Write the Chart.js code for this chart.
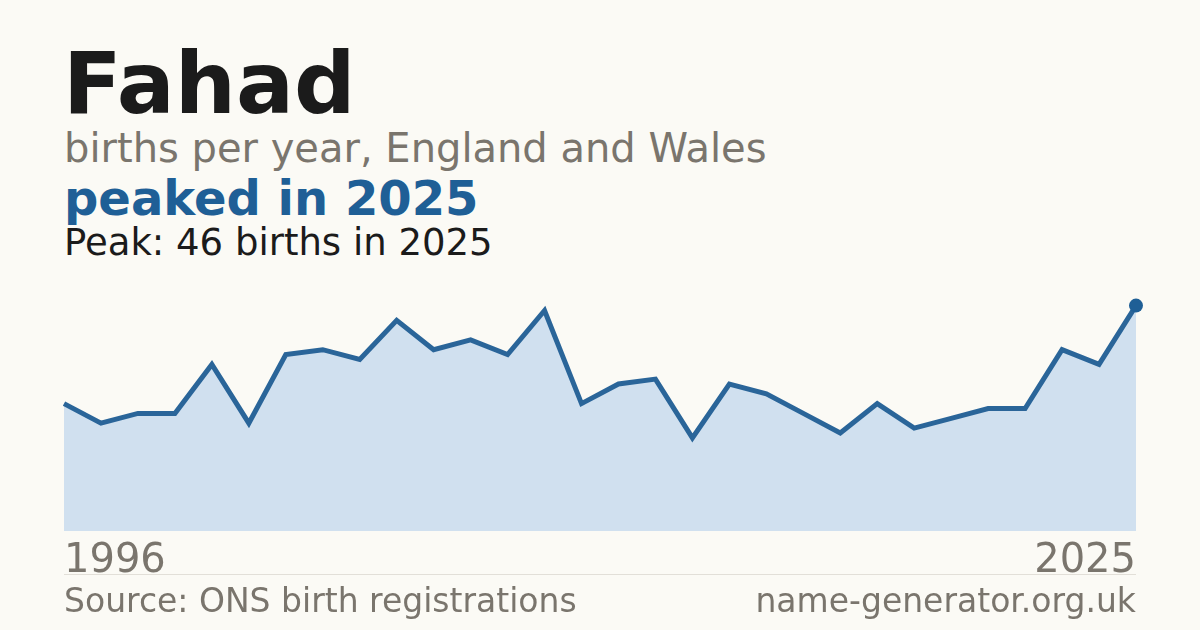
<!DOCTYPE html>
<html>
<head>
<meta charset="utf-8">
<script src="https://cdn.jsdelivr.net/npm/chart.js@4"></script>
<style>
  html, body { margin: 0; padding: 0; }
  body {
    width: 1200px; height: 630px; overflow: hidden; position: relative;
    background: #fbfaf5; font-family: "DejaVu Sans", sans-serif;
  }
  .txt { position: absolute; white-space: nowrap; line-height: 1.164; }
  #title { left: 63px; top: 33px; font-size: 86px; font-weight: bold; color: #1b1b1b; }
  #subtitle { left: 64px; top: 125px; font-size: 40px; color: #7a756d; }
  #headline { left: 64px; top: 171px; font-size: 48px; font-weight: bold; color: #1f5f96; }
  #peak { left: 64px; top: 221px; font-size: 37px; color: #1b1b1b; }
  #year-start { left: 64px; top: 535px; font-size: 40px; color: #7a756d; }
  #year-end { right: 64px; top: 535px; font-size: 40px; color: #7a756d; }
  #divider { position: absolute; left: 64px; width: 1072px; top: 574px; height: 1px; background: #e2dfd8; }
  #source { left: 64px; top: 582px; font-size: 33px; color: #7a756d; }
  #site { right: 64px; top: 582px; font-size: 33px; color: #7a756d; }
  #chart-wrap { position: absolute; left: 44px; top: 266px; width: 1112px; height: 272px; }
</style>
</head>
<body>
<div class="txt" id="title">Fahad</div>
<div class="txt" id="subtitle">births per year, England and Wales</div>
<div class="txt" id="headline"></div>
<div class="txt" id="peak"></div>
<div id="chart-wrap"><canvas id="chart"></canvas></div>
<div class="txt" id="year-start"></div>
<div class="txt" id="year-end"></div>
<div id="divider"></div>
<div class="txt" id="source">Source: ONS birth registrations</div>
<div class="txt" id="site">name-generator.org.uk</div>

<script>
// births per year
const years = [1996, 1997, 1998, 1999, 2000, 2001, 2002, 2003, 2004, 2005,
  2006, 2007, 2008, 2009, 2010, 2011, 2012, 2013, 2014, 2015,
  2016, 2017, 2018, 2019, 2020, 2021, 2022, 2023, 2024, 2025];
const births = [26, 22, 24, 24, 34, 22, 36, 37, 35, 43,
  37, 39, 36, 45, 26, 30, 31, 19, 30, 28,
  24, 20, 26, 21, 23, 25, 25, 37, 34, 46];

const peakValue = Math.max(...births);
const peakYear = years[births.indexOf(peakValue)];

document.getElementById('headline').textContent = `peaked in ${peakYear}`;
document.getElementById('peak').textContent = `Peak: ${peakValue} births in ${peakYear}`;
document.getElementById('year-start').textContent = years[0];
document.getElementById('year-end').textContent = years[years.length - 1];

// only the last (peak) point gets a dot
const pointRadii = births.map((v, i) => (i === births.length - 1 ? 7 : 0));

new Chart(document.getElementById('chart'), {
  type: 'line',
  data: {
    labels: years.map(String),
    datasets: [{
      data: births,
      borderColor: '#2a6599',
      borderWidth: 5,
      backgroundColor: '#d0e0ef',
      fill: 'origin',
      tension: 0,
      clip: false,
      pointRadius: pointRadii,
      pointBackgroundColor: '#1f5f96',
      pointBorderWidth: 0,
      pointHoverRadius: 0
    }]
  },
  options: {
    responsive: true,
    maintainAspectRatio: false,
    animation: false,
    layout: { padding: { left: 20, right: 20, top: 20, bottom: 0 } },
    plugins: { legend: { display: false }, tooltip: { enabled: false } },
    scales: {
      x: { display: false, offset: false },
      y: { display: false, min: 0, max: 50 }
    }
  }
});
</script>
</body>
</html>
